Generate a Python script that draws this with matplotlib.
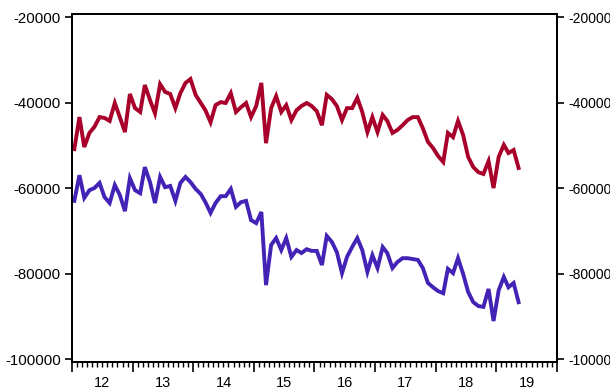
import numpy as np
import pandas as pd
import matplotlib
matplotlib.use("Agg")
import matplotlib.pyplot as plt
import matplotlib.dates as mdates
import matplotlib.transforms as mtransforms

plt.rcParams['font.family'] = ['Liberation Sans', 'DejaVu Sans']

# monthly observations, 2012M01 .. 2019M05
months = pd.date_range('2012-01-01', periods=89, freq='MS') + pd.Timedelta(days=14)

red = [-50900, -43400, -50400, -47100, -45700, -43400, -43600, -44300, -40100, -43400,
       -46900, -38000, -41300, -42200, -35900, -39400, -42500, -35700, -37500, -38000,
       -41300, -37800, -35400, -34500, -38200, -40100, -41800, -44600, -40600, -39900,
       -40100, -37800, -42200, -41100, -40100, -43400, -40800, -35400, -49500, -41300,
       -38500, -42200, -40600, -44100, -41800, -40800, -40100, -40800, -42000, -45300,
       -38200, -39200, -40800, -44100, -41300, -41300, -38900, -42200, -46900, -43400,
       -46900, -42900, -44300, -47100, -46400, -45300, -44100, -43400, -43400, -46000,
       -49200, -50600, -52500, -53900, -47100, -48100, -44300, -47600, -52700, -55100,
       -56300, -56700, -53700, -60000, -52700, -49900, -51800, -51100, -55300]

blue = [-63000, -57000, -62300, -60500, -60000, -58800, -62100, -63500, -59300, -61600,
        -65400, -57700, -60500, -61200, -55100, -58600, -63500, -57400, -59800, -59500,
        -63000, -58800, -57400, -58600, -60200, -61400, -63300, -65800, -63500, -61900,
        -61900, -60200, -64400, -63300, -63000, -67500, -68200, -65600, -82700, -73300,
        -71700, -74500, -71700, -76100, -74500, -75200, -74300, -74700, -74700, -78000,
        -71200, -72600, -75000, -79900, -76100, -73800, -71700, -74500, -79600, -75700,
        -78700, -73800, -75200, -78700, -77300, -76400, -76400, -76600, -76800, -78700,
        -82200, -83200, -84100, -84600, -78900, -79900, -76400, -80100, -84300, -86700,
        -87600, -87800, -83600, -91100, -83900, -80800, -83200, -82200, -86700]

yticks = [-20000, -40000, -60000, -80000, -100000]
year_labels = ['12', '13', '14', '15', '16', '17', '18', '19']

fig = plt.figure(figsize=(6.1, 3.91), dpi=100)
ax = fig.add_axes([0.118, 0.074, 0.795, 0.89])

ax.plot(months, red, color='#A8002A', lw=2.8, solid_joinstyle='miter')
ax.plot(months, blue, color='#4323B5', lw=2.8, solid_joinstyle='miter')

ylim = (-100700, -19300)
ax.set_ylim(*ylim)
ax.set_yticks(yticks)
ax.set_yticklabels([str(t) for t in yticks])
ax.set_xlim(pd.Timestamp('2012-01-01'), pd.Timestamp('2020-01-01'))

ax.xaxis.set_major_locator(mdates.YearLocator())
ax.xaxis.set_minor_locator(mdates.MonthLocator())
ax.xaxis.set_major_formatter(plt.NullFormatter())
ax.tick_params(axis='x', which='major', length=7, width=1.2, direction='out')
ax.tick_params(axis='x', which='minor', length=3.5, width=1.0, direction='out')
ax.tick_params(axis='y', length=5, width=1.2, direction='out', labelsize=10.8, pad=3)

# right axis repeats the same scale
ax2 = ax.twinx()
ax2.set_ylim(*ylim)
ax2.set_yticks(yticks)
ax2.set_yticklabels([str(t) for t in yticks])
ax2.tick_params(axis='y', length=5, width=1.2, direction='out', labelsize=10, pad=3)

for a in (ax, ax2):
    for s in a.spines.values():
        s.set_linewidth(1.4)
        s.set_color('black')

trans = mtransforms.blended_transform_factory(ax.transData, ax.transAxes)
for lab in year_labels:
    mid = pd.Timestamp(f'20{lab}-07-02')
    ax.text(mdates.date2num(mid), -0.06, lab, transform=trans,
            ha='center', va='center', fontsize=10.5)

fig.savefig('out.png', dpi=100)
